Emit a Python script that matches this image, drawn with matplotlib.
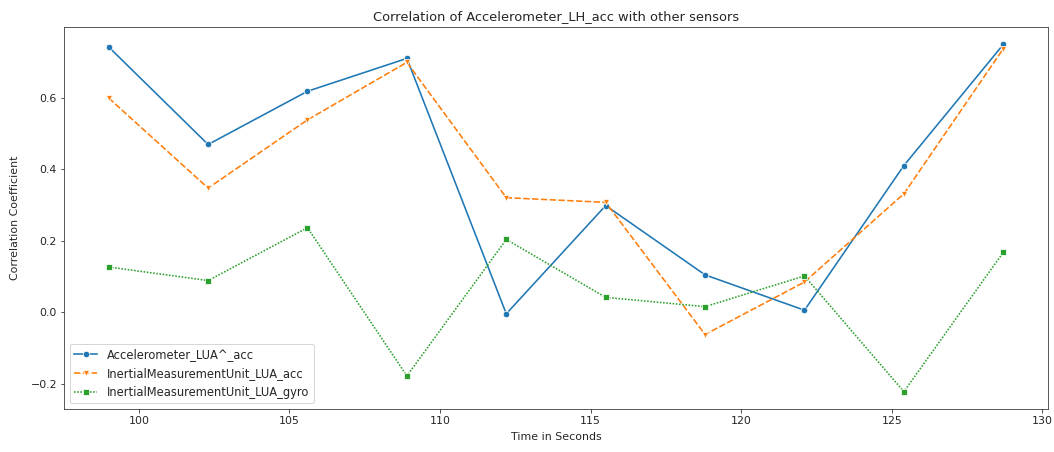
import matplotlib
matplotlib.use("Agg")
import matplotlib.pyplot as plt

time_s = [99.0, 102.3, 105.6, 108.9, 112.2, 115.5, 118.8, 122.1, 125.4, 128.7]
accel_lua = [0.743, 0.470, 0.619, 0.711, -0.004, 0.299, 0.105, 0.006, 0.411, 0.750]
imu_lua_acc = [0.600, 0.348, 0.539, 0.700, 0.321, 0.308, -0.062, 0.085, 0.332, 0.738]
imu_lua_gyro = [0.127, 0.089, 0.237, -0.178, 0.204, 0.042, 0.016, 0.102, -0.222, 0.168]

series = [
    ("Accelerometer_LUA^_acc", accel_lua, "#1f77b4", "o", "-"),
    ("InertialMeasurementUnit_LUA_acc", imu_lua_acc, "#ff7f0e", "v", (0, (4, 1.5))),
    ("InertialMeasurementUnit_LUA_gyro", imu_lua_gyro, "#2ca02c", "s", (0, (1, 1))),
]

text_color = "#262626"
plt.rcParams.update({
    "text.color": text_color,
    "axes.labelcolor": text_color,
    "xtick.color": text_color,
    "ytick.color": text_color,
    "axes.edgecolor": "#333333",
})

fig = plt.figure(figsize=(1054 / 72, 452 / 72), dpi=72)
ax = fig.add_axes([0.0607, 0.0951, 0.9336, 0.8449])

for label, vals, color, marker, ls in series:
    ax.plot(time_s, vals, color=color, marker=marker, linestyle=ls, linewidth=1.6,
            markersize=6.5, markeredgecolor="white", markeredgewidth=0.75, label=label)

ax.tick_params(labelsize=11)
ax.set_title("Correlation of Accelerometer_LH_acc with other sensors", fontsize=13, pad=7)
ax.set_xlabel("Time in Seconds", fontsize=11, labelpad=6)
ax.set_ylabel("Correlation Coefficient", fontsize=11, labelpad=10)
ax.legend(loc="lower left", fontsize=11.5)

fig.savefig("out.png", dpi=72)
